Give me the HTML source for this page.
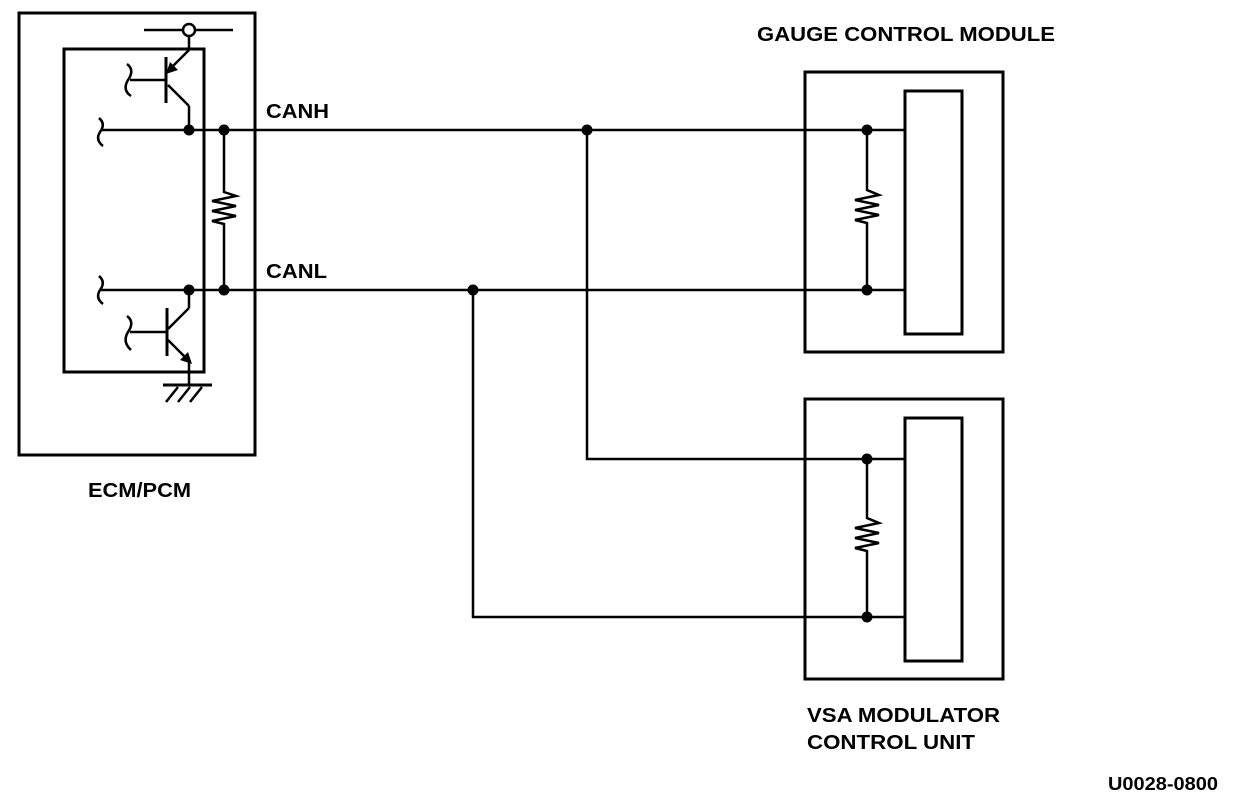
<!DOCTYPE html>
<html><head><meta charset="utf-8"><style>
html,body{margin:0;padding:0;background:#fff;}
svg{display:block;}
text{font-family:"Liberation Sans",Arial,sans-serif;font-weight:bold;font-size:20px;fill:#000;}
</style></head><body>
<svg width="1248" height="796" viewBox="0 0 1248 796" xmlns="http://www.w3.org/2000/svg">
<g fill="none" stroke="#000" stroke-width="3">
<rect x="19" y="13" width="236" height="442"/>
<rect x="64" y="49" width="140" height="323"/>
<rect x="805" y="72" width="198" height="280"/>
<rect x="905" y="91" width="57" height="243"/>
<rect x="805" y="399" width="198" height="280"/>
<rect x="905" y="418" width="57" height="243"/>
</g>
<g fill="none" stroke="#000" stroke-width="2.5">
<line x1="144" y1="30" x2="183" y2="30"/>
<line x1="195" y1="30" x2="233" y2="30"/>
<line x1="189" y1="36" x2="189" y2="50"/>
<line x1="189" y1="50" x2="170" y2="69"/>
<line x1="166" y1="57" x2="166" y2="103" stroke-width="3"/>
<line x1="130" y1="80" x2="166" y2="80"/>
<path d="M127 64 Q135 70 128 80 Q122 90 131 96"/>
<line x1="168" y1="85" x2="189" y2="106"/>
<line x1="189" y1="106" x2="189" y2="130"/>
<path d="M99 118 Q106 124 100 132 Q95 140 103 146"/>
<line x1="101" y1="130" x2="905" y2="130"/>
<path d="M99 276 Q106 282 100 290 Q95 298 103 304"/>
<line x1="101" y1="290" x2="905" y2="290"/>
<line x1="189" y1="290" x2="189" y2="308"/>
<line x1="189" y1="308" x2="168" y2="329"/>
<line x1="167" y1="308" x2="167" y2="356" stroke-width="3"/>
<line x1="130" y1="332" x2="167" y2="332"/>
<path d="M127 316 Q135 322 128 332 Q122 342 131 350"/>
<line x1="168" y1="340" x2="190" y2="362"/>
<line x1="189" y1="362" x2="189" y2="385"/>
<line x1="163" y1="385" x2="212" y2="385" stroke-width="3"/>
<line x1="178" y1="387" x2="166" y2="402"/>
<line x1="190" y1="387" x2="178" y2="402"/>
<line x1="202" y1="387" x2="190" y2="402"/>
<path d="M224 130 V192 L236 196 L212 201 L236 206 L212 211 L236 216 L212 221 L224 224 V290"/>
<path d="M867 130 V190 L879 195 L855 200 L879 205 L855 210 L879 215 L855 220 L867 223 V290"/>
<path d="M867 459 V518 L879 523 L855 528 L879 533 L855 538 L879 543 L855 548 L867 551 V617"/>
<path d="M587 130 V459 H905"/>
<path d="M473 290 V617 H905"/>
</g>
<circle cx="189" cy="30" r="6" fill="#fff" stroke="#000" stroke-width="2.5"/>
<polygon points="166,74 170,62 178,70" fill="#000"/>
<polygon points="192,364 180,360 188,352" fill="#000"/>
<g fill="#000">
<circle cx="189" cy="130" r="5.5"/><circle cx="224" cy="130" r="5.5"/>
<circle cx="189" cy="290" r="5.5"/><circle cx="224" cy="290" r="5.5"/>
<circle cx="587" cy="130" r="5.5"/><circle cx="473" cy="290" r="5.5"/>
<circle cx="867" cy="130" r="5.5"/><circle cx="867" cy="290" r="5.5"/>
<circle cx="867" cy="459" r="5.5"/><circle cx="867" cy="617" r="5.5"/>
</g>
<text x="266" y="118" textLength="63" lengthAdjust="spacingAndGlyphs">CANH</text>
<text x="266" y="278" textLength="61" lengthAdjust="spacingAndGlyphs">CANL</text>
<text x="757" y="41" textLength="298" lengthAdjust="spacingAndGlyphs">GAUGE CONTROL MODULE</text>
<text x="88" y="497" textLength="103" lengthAdjust="spacingAndGlyphs">ECM/PCM</text>
<text x="807" y="722" textLength="193" lengthAdjust="spacingAndGlyphs">VSA MODULATOR</text>
<text x="807" y="749" textLength="168" lengthAdjust="spacingAndGlyphs">CONTROL UNIT</text>
<text x="1108" y="790" textLength="110" lengthAdjust="spacingAndGlyphs" style="font-size:18px">U0028-0800</text>
</svg>
</body></html>
